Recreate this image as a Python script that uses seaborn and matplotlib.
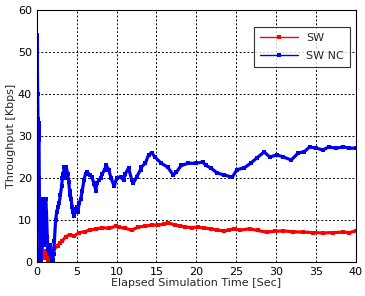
import pandas as pd
import numpy as np
import matplotlib
matplotlib.use("Agg")
import matplotlib.pyplot as plt
import seaborn as sns

# SW (red) series
sw_t = [0.0, 0.05, 0.1, 0.15, 0.25, 0.4, 0.55, 0.7, 0.85, 1.0, 1.1, 1.25, 1.4, 1.55, 1.7,
        1.9, 2.1, 2.3, 2.6, 2.85, 3.2, 3.6, 4.1, 4.7, 5.3, 6.0, 6.6, 7.4, 8.2, 9.0, 9.9,
        10.3, 11.1, 11.9, 12.7, 13.5, 14.4, 15.2, 16.0, 16.5, 17.3, 18.0, 18.6, 19.5, 20.2,
        21.0, 21.8, 22.6, 23.5, 24.1, 24.7, 25.5, 26.7, 27.7, 28.8, 29.8, 30.9, 32.1, 33.4,
        34.6, 35.9, 37.1, 38.4, 39.2, 40.0]
sw_v = [0, 22, 18, 11, 9, 8, 5, 3, 2, 1, 2.5, 1, 0.5, 2, 3,
        2.5, 3, 3.6, 3.8, 4.5, 5, 6, 6.5, 6.2, 7, 7.2, 7.6, 7.8, 8.2, 8.0, 8.5,
        8.3, 8.0, 7.6, 8.3, 8.5, 8.8, 8.8, 9.0, 9.3, 8.8, 8.6, 8.3, 8.2, 8.3,
        8.1, 7.9, 7.6, 7.4, 7.6, 7.9, 7.6, 7.9, 7.5, 7.1, 7.3, 7.4, 7.2, 7.1,
        7.0, 6.9, 7.0, 7.1, 7.0, 7.4]

# SW NC (blue) series
nc_t = [0.0, 0.03, 0.06, 0.1, 0.14, 0.18, 0.22, 0.26, 0.3, 0.35, 0.4, 0.45, 0.5, 0.6,
        0.7, 0.8, 0.9, 1.0, 1.1, 1.2, 1.3, 1.4, 1.5, 1.6, 1.7, 1.8, 1.9, 2.0, 2.1, 2.2,
        2.35, 2.5, 2.65, 2.8, 2.95, 3.1, 3.2, 3.3, 3.45, 3.6, 3.7, 3.85, 4.0, 4.1, 4.2,
        4.3, 4.4, 4.5, 4.65, 4.8, 5.0, 5.15, 5.3, 5.5, 5.7, 5.9, 6.1, 6.3, 6.6, 6.9,
        7.2, 7.4, 7.5, 7.8, 8.0, 8.2, 8.5, 8.7, 9.0, 9.3, 9.7, 10.0, 10.5, 10.9, 11.1,
        11.5, 11.9, 12.1, 12.5, 13.0, 13.1, 13.6, 14.0, 14.4, 14.8, 15.6, 16.4, 17.1,
        17.5, 18.1, 19.0, 19.9, 20.8, 21.2, 21.8, 22.6, 23.5, 24.5, 25.1, 26.0, 26.8,
        27.6, 28.5, 29.2, 30.1, 30.9, 31.9, 32.8, 33.5, 34.2, 35.0, 35.9, 36.6, 37.5,
        38.4, 39.1, 40.0]
nc_v = [30, 54, 48, 40, 34, 32, 29, 33, 20, 8, 0, 3, 0, 6,
        15, 10, 4, 8, 15, 12, 6, 3, 2, 4, 2, 1, 0.5, 0.5, 2, 5,
        10, 12, 13, 14, 16, 18, 20, 21, 22.5, 20, 22.5, 21, 19, 17, 16,
        15, 13, 12, 11, 12.5, 13, 12, 14, 15, 17, 19.5, 21, 21.4, 20.8, 20.2,
        18.5, 17, 18.8, 19.5, 20, 21, 22, 23, 22, 20, 18, 20, 20.2, 19.5, 21,
        22.4, 19.5, 18.8, 20.2, 22, 22.6, 23.5, 25.5, 26, 25, 23.5, 22.6, 20.7,
        21.4, 23, 23.5, 23.5, 23.8, 23, 22.4, 21.2, 20.7, 20.2, 22, 22.4, 23.5,
        24.8, 26.2, 25, 25.5, 25, 24.3, 26, 26.2, 27.4, 27.1, 26.7, 27.4, 27.1,
        27.4, 27.1, 27.1]

df = pd.concat([
    pd.DataFrame({"time": sw_t, "thr": sw_v, "series": "SW"}),
    pd.DataFrame({"time": nc_t, "thr": nc_v, "series": "SW NC"}),
])

sns.set_style("white")
plt.rcParams["font.family"] = ["DejaVu Sans"]

fig = plt.figure(figsize=(3.65, 2.96), dpi=100)
ax = fig.add_axes([0.101, 0.115, 0.874, 0.851])

sns.lineplot(data=df, x="time", y="thr", hue="series", palette=["#ff0000", "#0000ee"],
             marker="s", markersize=3, markeredgewidth=0, linewidth=2.3,
             sort=False, estimator=None, ax=ax)

ax.set_xlim(0, 40)
ax.set_ylim(0, 60)
ax.set_xticks(range(0, 41, 5))
ax.set_yticks(range(0, 61, 10))
ax.grid(True, color="black", linestyle=(0, (2, 2)), linewidth=0.7)
ax.tick_params(direction="in", labelsize=8, length=3, colors="black")
for s in ax.spines.values():
    s.set_color("black")
    s.set_linewidth(0.8)
ax.set_xlabel("Elapsed Simulation Time [Sec]", fontsize=8, labelpad=1)
ax.set_ylabel("Throughput [Kbps]", fontsize=8, labelpad=1)

leg = ax.legend(loc="upper right", fontsize=8, frameon=True, fancybox=False,
                edgecolor="black", handlelength=3.4, borderpad=0.55,
                labelspacing=0.7, bbox_to_anchor=(1.0, 0.955))
leg.get_frame().set_linewidth(0.8)
for h in leg.get_lines():
    h.set_linewidth(1)
    h.set_markersize(3)

fig.savefig("out.png", dpi=100)
